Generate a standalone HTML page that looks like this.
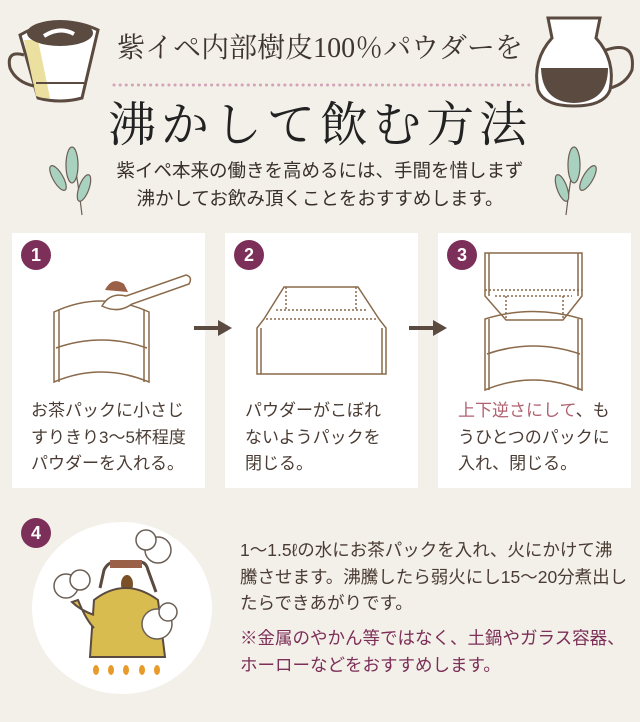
<!DOCTYPE html>
<html><head><meta charset="utf-8"><style>
body{margin:0;width:640px;height:722px;background:#f3f0e9;position:relative;overflow:hidden;font-family:"Liberation Sans","Noto Sans CJK JP",sans-serif;color:#4a3c34}
.a{position:absolute}
.card{position:absolute;top:233px;height:255px;background:#fff;width:193px}
.b{position:absolute;width:30px;height:30px;border-radius:50%;background:#7c2f58;color:#fff;font-weight:bold;font-size:18px;text-align:center;line-height:30px}
.t{position:absolute;font-size:17px;line-height:26.5px;white-space:nowrap}
</style></head><body>
<svg class="a" style="left:0;top:0" width="640" height="722">
<path d="M20 35 Q60 12 98 30 L82 98 Q60 104 38 98 Z" fill="#fff" stroke="#5a4a40" stroke-width="3"/>
<path d="M24 40 L36 96 Q44 99 50 98 L38 40Z" fill="#ece0a0"/>
<ellipse cx="60" cy="33" rx="33" ry="13" fill="#5a4a40"/>
<path d="M44 36 Q60 26 74 34" stroke="#fff" stroke-width="4" fill="none"/>
<path d="M24 55 Q6 50 10 68 Q16 82 34 86" stroke="#5a4a40" stroke-width="3" fill="none"/>
<path d="M36 83 L84 83" stroke="#5a4a40" stroke-width="2"/>
<path d="M548 18 L600 18 L596 38 Q616 60 610 90 Q604 106 574 106 Q544 106 538 90 Q532 60 552 38Z" fill="#fff" stroke="#5a4a40" stroke-width="3"/>
<path d="M541 68 L608 68 Q608 102 574 103 Q542 102 541 68Z" fill="#5a4a40"/>
<path d="M606 50 Q636 40 632 70 Q626 84 610 88" stroke="#5a4a40" stroke-width="3" fill="none"/>
<g fill="#a9d1bf" stroke="#6b5f55" stroke-width="1.2">
<path d="M82 215 Q78 180 72 150"/><ellipse cx="72" cy="165" rx="6" ry="18"/><ellipse cx="58" cy="178" rx="5" ry="14" transform="rotate(-30 58 178)"/><ellipse cx="84" cy="188" rx="5" ry="14" transform="rotate(20 84 188)"/>
<path d="M566 215 Q570 180 576 150"/><ellipse cx="574" cy="165" rx="6" ry="18"/><ellipse cx="588" cy="178" rx="5" ry="14" transform="rotate(30 588 178)"/><ellipse cx="562" cy="188" rx="5" ry="14" transform="rotate(-20 562 188)"/>
</g>
<line x1="114" y1="85" x2="532" y2="85" stroke="#d4a4b6" stroke-width="3" stroke-dasharray="0.1 6" stroke-linecap="round"/>
</svg>
<div class="a" style="left:0;width:640px;top:26px;text-align:center;font-size:28px;font-family:'Liberation Serif','Noto Serif CJK SC',serif;color:#3f3530">紫イペ内部樹皮100％パウダーを</div>
<div class="a" style="left:0;width:640px;top:86px;text-align:center;font-size:48px;letter-spacing:5px;font-family:'Liberation Serif','Noto Serif CJK SC',serif;color:#222">沸かして飲む方法</div>
<div class="a" style="left:0;width:640px;top:157px;text-align:center;font-size:18.5px;line-height:28px;color:#3a302b">紫イペ本来の働きを高めるには、手間を惜しまず<br>沸かしてお飲み頂くことをおすすめします。</div>

<div class="card" style="left:12px"></div>
<div class="card" style="left:225px"></div>
<div class="card" style="left:438px"></div>
<div class="b" style="left:21px;top:240px">1</div>
<div class="b" style="left:234px;top:240px">2</div>
<div class="b" style="left:447px;top:240px">3</div>
<svg class="a" style="left:0;top:220px" width="640" height="280" fill="none" stroke="#8a6a4a" stroke-width="1.5">
<path d="M54 92 Q101 70 149 92 L149 162 Q101 142 54 162Z M59 90 L59 162 M144 90 L144 162 M56 128 Q101 112 147 128"/>
<path d="M105 70 Q112 56 124 64 L128 72 Z" fill="#9a6048" stroke="none"/>
<path d="M102 86 Q110 72 126 76 L186 55 Q193 57 189 64 L132 84 Q118 94 102 86Z" fill="#fff"/>
<g stroke="#5a4a40" stroke-width="4"><line x1="194" y1="108" x2="220" y2="108"/><line x1="409" y1="108" x2="435" y2="108"/></g>
<path d="M218 100 L232 108 L218 116Z M433 100 L447 108 L433 116Z" fill="#5a4a40" stroke="none"/>
<path d="M284 67 L358 67 L379 99 L386 108 L386 154 L257 154 L257 108 L264 99Z M261 108 L261 154 M382 108 L382 154"/>
<path d="M286 67 L286 90 M356 67 L356 90 M276 90 L366 90 M266 99 L377 99" stroke-dasharray="2 2"/>
<path d="M485 33 L582 33 L582 76 L563 100 L506 100 L485 76Z M489 33 L489 76 M578 33 L578 76"/>
<path d="M485 70 L582 70 M495 76 L572 76 M506 76 L506 100 M563 76 L563 100" stroke-dasharray="2 2"/>
<path d="M485 99 Q533 84 582 99 L582 170 Q533 150 485 170Z M489 99 L489 170 M578 99 L578 170 M487 134 Q533 118 580 134"/>
</svg>
<div class="t" style="left:31px;top:398px">お茶パックに小さじ<br>すりきり3〜5杯程度<br>パウダーを入れる。</div>
<div class="t" style="left:245px;top:398px">パウダーがこぼれ<br>ないようパックを<br>閉じる。</div>
<div class="t" style="left:458px;top:398px"><span style="color:#b0606f">上下逆さにして</span>、も<br>うひとつのパックに<br>入れ、閉じる。</div>

<svg class="a" style="left:0;top:500px" width="240" height="222">
<ellipse cx="122" cy="108" rx="90" ry="86" fill="#fff"/>
<path d="M100 88 L104 70 Q108 62 115 62 L140 62 Q146 62 148 70 L156 92" stroke="#5a4a40" stroke-width="3" fill="none"/>
<path d="M110 60 L142 60 L142 68 L110 68Z" fill="#9a6048"/>
<ellipse cx="127" cy="84" rx="6" ry="9" fill="#7a5028"/>
<path d="M94 100 Q125 76 158 100 L165 157 L90 157Z" fill="#d8bc50" stroke="#5a4a40" stroke-width="2"/>
<path d="M94 115 Q80 110 72 102 L78 100 Q86 120 94 128" fill="#d8bc50" stroke="#5a4a40" stroke-width="2"/>
<g fill="#fff" stroke="#6b5f55" stroke-width="1.5"><circle cx="66" cy="86" r="12"/><circle cx="80" cy="80" r="10"/><circle cx="158" cy="50" r="13"/><circle cx="146" cy="40" r="10"/><circle cx="157" cy="124" r="15"/><circle cx="168" cy="112" r="9"/></g>
<g fill="#e89a2a"><ellipse cx="96" cy="170" rx="3" ry="5"/><ellipse cx="111" cy="170" rx="3" ry="5"/><ellipse cx="126" cy="170" rx="3" ry="5"/><ellipse cx="142" cy="170" rx="3" ry="5"/><ellipse cx="157" cy="170" rx="3" ry="5"/></g>
</svg>
<div class="b" style="left:21px;top:518px">4</div>
<div class="t" style="left:240px;top:537px;font-size:17.5px">1〜1.5ℓの水にお茶パックを入れ、火にかけて沸<br>騰させます。沸騰したら弱火にし15〜20分煮出し<br>たらできあがりです。</div>
<div class="t" style="left:240px;top:625px;color:#7c2f58;font-size:17.5px">※金属のやかん等ではなく、土鍋やガラス容器、<br>ホーローなどをおすすめします。</div>
</body></html>
